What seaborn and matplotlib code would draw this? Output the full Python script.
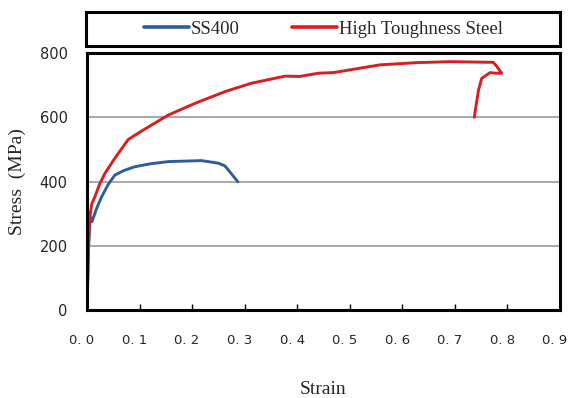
import matplotlib
matplotlib.use("Agg")
import matplotlib.pyplot as plt
import matplotlib.transforms as mtransforms
import seaborn as sns
import pandas as pd

# Stress-strain records
ss400_strain = [0.0, 0.003, 0.006, 0.0095, 0.018, 0.028, 0.04, 0.053, 0.07, 0.091,
                0.12, 0.155, 0.218, 0.25, 0.262, 0.269, 0.287]
ss400_stress = [0, 200, 290, 275, 315, 353, 390, 420, 434, 446,
                455, 462, 465, 457, 449, 436, 399]

hts_strain = [0.0, 0.002, 0.004, 0.006, 0.009, 0.0152, 0.024, 0.034, 0.05, 0.065,
              0.0786, 0.1, 0.123, 0.155, 0.205, 0.263, 0.313, 0.377, 0.405, 0.44,
              0.469, 0.557, 0.627, 0.691, 0.773, 0.779, 0.789, 0.778, 0.767, 0.751,
              0.745, 0.739, 0.737]
hts_stress = [0, 150, 250, 295, 330, 353, 392, 425, 465, 500,
              531, 553, 576, 607, 643, 680, 706, 728, 727, 737,
              739, 763, 770, 773, 771, 760, 737, 737, 739, 721,
              685, 623, 600]

series_names = ["SS400", "High Toughness Steel"]
series_colors = ["#2F5D9B", "#D81E20"]

x_ticks = [0.0, 0.1, 0.2, 0.3, 0.4, 0.5, 0.6, 0.7, 0.8, 0.9]
x_ticklabels = ["0. 0", "0. 1", "0. 2", "0. 3", "0. 4", "0. 5", "0. 6", "0. 7", "0. 8", "0. 9"]
y_ticks = [0, 200, 400, 600, 800]

frames = []
for name, xs, ys in zip(series_names, [ss400_strain, hts_strain], [ss400_stress, hts_stress]):
    frames.append(pd.DataFrame({"Strain": xs, "Stress": ys, "Steel": name}))
df = pd.concat(frames, ignore_index=True)

sns.set_style("white")
fig = plt.figure(figsize=(5.68, 3.98), dpi=100)
ax = fig.add_axes([87 / 568, 1 - 310 / 398, 473 / 568, 257 / 398])

# each series drawn as one connected path, in recorded order
for name, color in zip(series_names, series_colors):
    sub = df[df["Steel"] == name]
    sns.lineplot(x=sub["Strain"].to_numpy(), y=sub["Stress"].to_numpy(), sort=False,
                 estimator=None, color=color, linewidth=2.1, ax=ax, label=name)
ax.get_legend().remove()

ax.set_xlim(0, 0.9)
ax.set_ylim(0, 800)
ax.set_xticks(x_ticks)
ax.set_xticklabels(x_ticklabels, fontfamily="DejaVu Sans", fontsize=9.5)
ax.set_yticks(y_ticks)
ax.set_yticklabels([str(v) for v in y_ticks], fontfamily="DejaVu Sans", fontsize=10.5)
ax.tick_params(axis="x", direction="in", length=4, width=1, color="black", pad=17, bottom=True)
ax.tick_params(axis="y", length=0, pad=14)
# nudge the strain labels slightly left of their ticks
shift = mtransforms.ScaledTranslation(-5 / 100, 0, fig.dpi_scale_trans)
for lbl in ax.get_xticklabels():
    lbl.set_transform(lbl.get_transform() + shift)
ax.yaxis.grid(True, color="#9a9a9a", linewidth=1.2)
ax.set_axisbelow(True)
for sp in ax.spines.values():
    sp.set_color("black")
    sp.set_linewidth(2.2)

ax.set_xlabel("Strain", fontfamily="Liberation Serif", fontsize=14, labelpad=25)
ax.set_ylabel("Stress  (MPa)", fontfamily="Liberation Serif", fontsize=14, labelpad=10)

handles, labels = ax.get_legend_handles_labels()
leg = fig.legend(handles, labels, loc="center", ncol=2,
                 bbox_to_anchor=(87 / 568, 1 - 46 / 398, 473 / 568, 34 / 398),
                 frameon=False, handlelength=2.4, handletextpad=0.1,
                 columnspacing=2.8, prop={"family": "Liberation Serif", "size": 13.5})
for h in leg.get_lines():
    h.set_linewidth(2.6)
# legend frame spanning the plot width
box = plt.Rectangle((86 / 568, 1 - 46 / 398), 474 / 568, 34 / 398, transform=fig.transFigure,
                    fill=False, edgecolor="black", linewidth=2.2)
fig.add_artist(box)

fig.savefig("out.png", dpi=100)
